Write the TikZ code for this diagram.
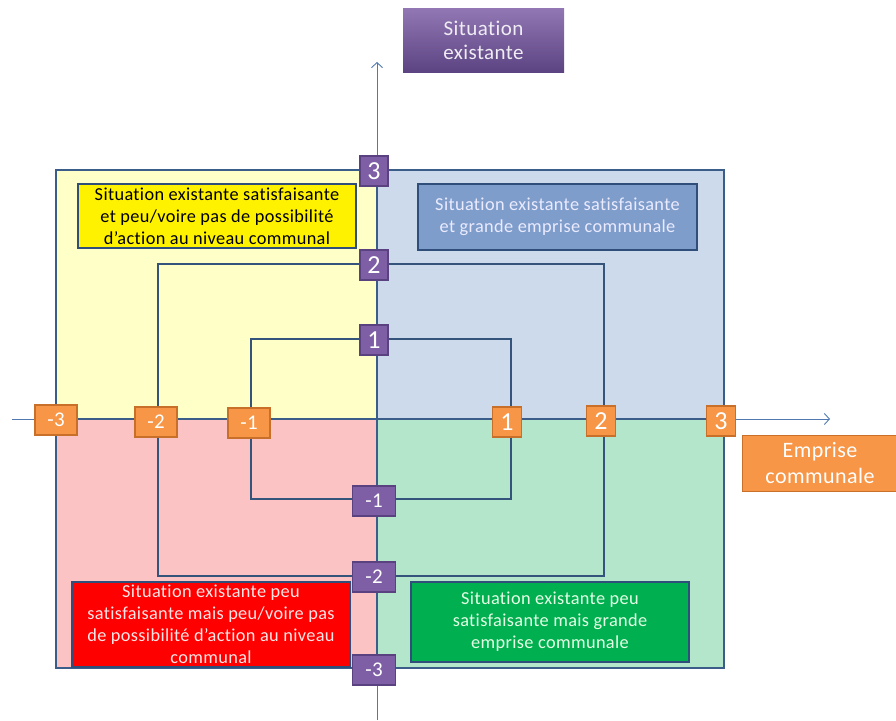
\documentclass[tikz,border=0pt]{standalone}
\usepackage{fontspec}
\setmainfont{Carlito}[Ligatures=NoCommon, LetterSpace=2]
\usetikzlibrary{arrows.meta}
\definecolor{qyellow}{HTML}{FFFFC8}
\definecolor{qblue}{HTML}{CDDAEC}
\definecolor{qpink}{HTML}{FBC3C3}
\definecolor{qgreen}{HTML}{B4E6CC}
\definecolor{frame}{HTML}{3A5D8A}
\definecolor{axis}{HTML}{4F79B0}
\definecolor{purp}{HTML}{7E5FA6}
\definecolor{purpd}{HTML}{5A4280}
\definecolor{orng}{HTML}{F79646}
\definecolor{orngd}{HTML}{C8702A}
\definecolor{boxblue}{HTML}{7F9DCB}
\definecolor{boxgreen}{HTML}{00B050}
\definecolor{boxframe}{HTML}{2F4F7A}
\tikzset{
  plab/.style={draw=purpd, fill=purp, line width=1.2pt, text=white, minimum height=30pt, inner sep=0pt, font=\fontsize{26}{26}\selectfont},
  plabn/.style={plab, minimum width=43pt, font=\fontsize{21}{21}\selectfont},
  plabp/.style={plab, minimum width=28pt},
  olab/.style={draw=orngd, fill=orng, line width=1.2pt, text=white, minimum height=30pt, inner sep=0pt, font=\fontsize{26}{26}\selectfont},
  olabn/.style={olab, minimum width=42pt, font=\fontsize{21}{21}\selectfont},
  olabp/.style={olab, minimum width=29pt},
  tbox/.style={draw=boxframe, line width=1.8pt, align=center, inner sep=0pt, font=\fontsize{18.3}{22}\selectfont},
  divline/.style={draw=frame, line width=2.6pt},
  inrect/.style={draw=frame!90!black, line width=2pt},
  axisline/.style={draw=axis, line width=0.9pt},
}
\begin{document}
\begin{tikzpicture}[x=1pt,y=-1pt]
\useasboundingbox (0,0) rectangle (896,720);
% quadrant fills
\fill[qyellow] (56,170) rectangle (377,419);
\fill[qblue] (377,170) rectangle (724,419);
\fill[qpink] (56,419) rectangle (377,668);
\fill[qgreen] (377,419) rectangle (724,668);
% axes coordinates
\coordinate (ybot) at (377,720);
\coordinate (ytop) at (377,62);
\coordinate (xleft) at (12,419);
\coordinate (xright) at (830,419);
\draw[axisline, -{Straight Barb[length=5pt,width=11pt]}] (ybot) -- (ytop);
\draw[axisline, -{Straight Barb[length=5pt,width=11pt]}] (xleft) -- (xright);
% label anchors (coordinates)
\coordinate (cxm3) at (56,419);
\coordinate (cxm2) at (158,419);
\coordinate (cxm1) at (251,419);
\coordinate (cxp1) at (511,419);
\coordinate (cxp2) at (604,419);
\coordinate (cxp3) at (724,419);
\coordinate (cyp3) at (377,170);
\coordinate (cyp2) at (377,264);
\coordinate (cyp1) at (377,339);
\coordinate (cym1) at (377,499);
\coordinate (cym2) at (377,576);
\coordinate (cym3) at (377,668);
% dividers and frames
\draw[divline] (cxm3) -- (cxp3);
\draw[divline] (cyp3) -- (cym3);
\draw[divline] (cxm3 |- cyp3) rectangle (cxp3 |- cym3);
\draw[inrect] (cxm2 |- cyp2) rectangle (cxp2 |- cym2);
\draw[inrect] (cxm1 |- cyp1) rectangle (cxp1 |- cym1);
% axis labels
\node[plabp] (yp3) at (374,171) {3};
\node[plabp] (yp2) at (374,265) {2};
\node[plabp] (yp1) at (374,340) {1};
\node[plabn] (ym1) at (374,501) {-1};
\node[plabn] (ym2) at (374,577) {-2};
\node[plabn] (ym3) at (374,670) {-3};
\node[olabn] (xm3) at (56,420) {-3};
\node[olabn] (xm2) at (156,422) {-2};
\node[olabn] (xm1) at (249,423) {-1};
\node[olabp] (xp1) at (507,422) {1};
\node[olabp] (xp2) at (601,421) {2};
\node[olabp] (xp3) at (721,421) {3};
% text boxes
\node[tbox, fill=yellow, text=black, minimum width=278pt, minimum height=64pt] (ytext) at (217,216)
  {Situation existante satisfaisante\\et peu/voire pas de possibilité\\d’action au niveau communal};
\node[tbox, fill=boxblue, text=white!92!blue, minimum width=279pt, minimum height=66pt] (btext) at (557.5,217)
  {Situation existante satisfaisante\\et grande emprise communale};
\node[tbox, fill=red, text=white!90!red, minimum width=278pt, minimum height=85pt] (rtext) at (211,624.5)
  {Situation existante peu\\satisfaisante mais peu/voire pas\\de possibilité d’action au niveau\\communal};
\node[tbox, fill=boxgreen, text=white!90!green, minimum width=278pt, minimum height=80pt] (gtext) at (550,622)
  {Situation existante peu\\satisfaisante mais grande\\emprise communale};
% axis titles
\node[draw=none, top color=purp!85!white, bottom color=purpd!95!purp, minimum width=161pt, minimum height=64pt, align=center, text=white!88!purp, inner sep=0pt, font=\fontsize{21}{24}\selectfont] (ytitle) at (483.5,40)
  {Situation\\existante};
\node[fill=orng, draw=orngd, line width=1pt, minimum width=156pt, minimum height=56pt, align=center, text=white, inner sep=0pt, font=\fontsize{22}{26}\selectfont] (xtitle) at (820,463)
  {Emprise\\communale};
\end{tikzpicture}
\end{document}
